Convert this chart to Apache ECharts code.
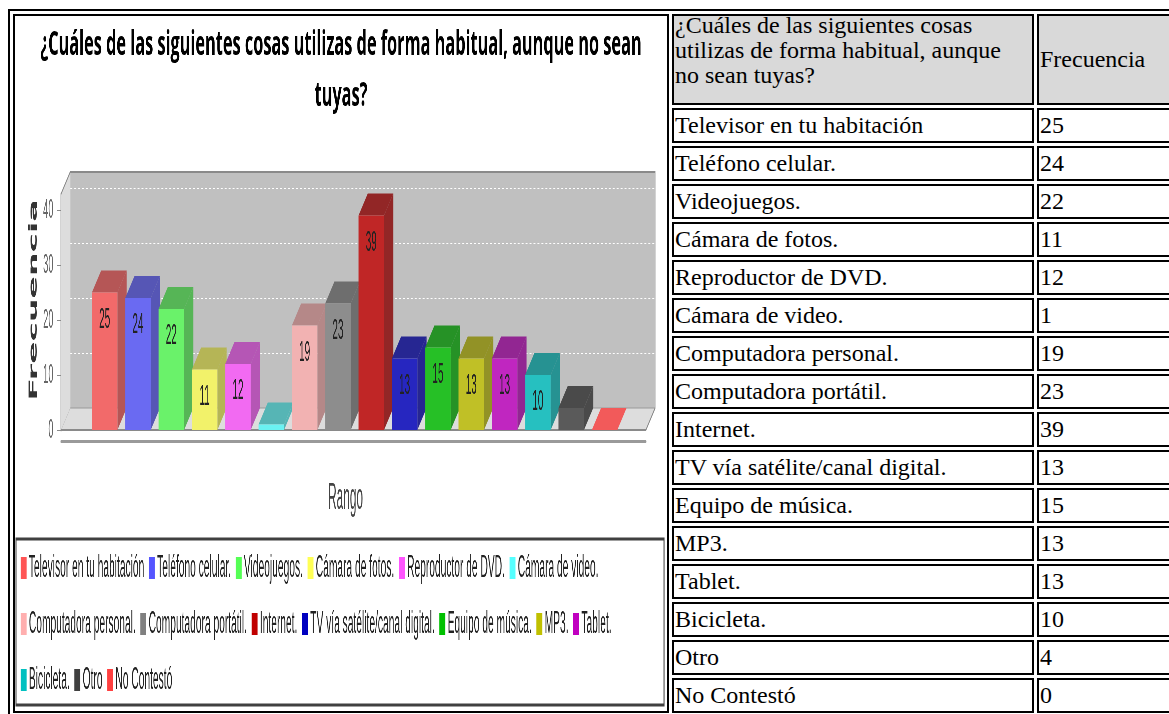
<!DOCTYPE html>
<html>
<head>
<meta charset="utf-8">
<script src="https://cdn.jsdelivr.net/npm/echarts@6/dist/echarts.min.js"></script>
<style>
  html, body { margin: 0; padding: 0; background: #fff; overflow: hidden; }
  #tbl { position: absolute; left: 8px; top: 9px; width: 1200px; border: 2px solid #000; border-spacing: 3px; border-collapse: separate; }
  #tbl td { border: 2px solid #000; padding: 0 1px; font: 24px "Liberation Serif", "Times New Roman", serif; line-height: 27px; color: #000; vertical-align: middle; background: #fff; }
  #tbl tr { height: 35px; }
  #tbl tr.head { height: 91px; }
  #tbl tr.head td.q { background: #d9d9d9; line-height: 25px; }
  #tbl tr.head td.c2 { vertical-align: top; }
  #tbl tr.head td.c2 span { position: relative; top: -3px; }
  #tbl td.chart { padding: 0; width: 652px; vertical-align: top; }
  #tbl td.c2 { width: 356px; }
  #tbl td.c3 { width: 160px; }
  #wrap { width: 652px; height: 695px; overflow: hidden; position: relative; }
  #main { position: absolute; left: 0; top: 0; height: 695px; transform-origin: 0 0; }
</style>
</head>
<body>
<table id="tbl"></table>
<script>
// data
const categories = [
  'Televisor en tu habitación', 'Teléfono celular.', 'Videojuegos.', 'Cámara de fotos.',
  'Reproductor de DVD.', 'Cámara de video.', 'Computadora personal.', 'Computadora portátil.',
  'Internet.', 'TV vía satélite/canal digital.', 'Equipo de música.', 'MP3.',
  'Tablet.', 'Bicicleta.', 'Otro', 'No Contestó'
];
const values = [25, 24, 22, 11, 12, 1, 19, 23, 39, 13, 15, 13, 13, 10, 4, 0];
const valueTicks = [0, 10, 20, 30, 40];
const titleLines = ['¿Cuáles de las siguientes cosas utilizas de forma habitual, aunque no sean', 'tuyas?'];
const questionLines = ['¿Cuáles de las siguientes cosas', 'utilizas de forma habitual, aunque', 'no sean tuyas?'];
const freqName = 'Frecuencia';
const rangeName = 'Rango';

// jfreechart default series paints
const palette = ['#ff5555', '#5555ff', '#55ff55', '#ffff55', '#ff55ff', '#55ffff', '#ffafaf', '#808080',
  '#c00000', '#0000c0', '#00c000', '#c0c000', '#c000c0', '#00c0c0', '#404040', '#ff4040'];

// ---- table ----
const tbl = document.getElementById('tbl');
let html = '<tr class="head"><td class="chart" rowspan="' + (categories.length + 1) + '"><div id="wrap"><div id="main"></div></div></td>'
  + '<td class="c2 q"><span>' + questionLines.join('<br>') + '</span></td><td class="c3 q">' + freqName + '</td></tr>';
categories.forEach((c, i) => {
  html += '<tr><td class="c2">' + c + '</td><td class="c3">' + values[i] + '</td></tr>';
});
tbl.innerHTML = html;

// ---- chart (drawn wide, then squeezed like the original image) ----
const W = 1976, H = 695;
const SX = 652 / W;
const DX = 28, DY = 22;          // 3d depth
const X_MIN = -1.31, X_MAX = 16.24, Y_MAX = 42.9, BAR_W = 0.765;

const main = document.getElementById('main');
main.style.width = W + 'px';
main.style.transform = 'scaleX(' + SX + ')';

function hex(c) { return [1, 3, 5].map(k => parseInt(c.substr(k, 2), 16)); }
function mix(c, bg, a) {
  const p = hex(c), q = hex(bg);
  return 'rgb(' + p.map((v, k) => Math.round(v * a + q[k] * (1 - a))).join(',') + ')';
}
function darker(c) {
  const p = hex(c).map(v => Math.floor(v * 0.7));
  return '#' + p.map(v => v.toString(16).padStart(2, '0')).join('');
}

function barSeries(name, k) {
  const front = mix(palette[k], '#c0c0c0', 0.8);
  const dark = mix(darker(palette[k]), '#c0c0c0', 0.8);
  return {
    type: 'custom', name: name, xAxisIndex: 0, yAxisIndex: 0, z: 3,
    itemStyle: { color: palette[k] },
    data: [[k, values[k]]],
    renderItem: function (params, api) {
      const v = api.value(1);
      const p0 = api.coord([api.value(0), 0]);
      const p1 = api.coord([api.value(0), v]);
      const w = api.size([BAR_W, 0])[0];
      const xl = p0[0] - w / 2, xr = p0[0] + w / 2, yb = p0[1], yt = p1[1];
      const kids = [
        { type: 'polygon', shape: { points: [[xr, yt], [xr + DX, yt - DY], [xr + DX, yb - DY], [xr, yb]] }, style: { fill: dark } },
        { type: 'polygon', shape: { points: [[xl, yt], [xl + DX, yt - DY], [xr + DX, yt - DY], [xr, yt]] }, style: { fill: v === 0 ? front : dark } },
        { type: 'rect', shape: { x: xl, y: yt, width: w, height: yb - yt }, style: { fill: front } }
      ];
      if (v >= 10) {
        kids.push({ type: 'text', x: p0[0], y: yt + 27,
          style: { text: String(v), font: '30px "Liberation Sans"', fill: '#222', textAlign: 'center', textVerticalAlign: 'middle' } });
      }
      return { type: 'group', children: kids };
    }
  };
}

// floor, left wall and outline of the 3d plot
const wallSeries = {
  type: 'custom', xAxisIndex: 0, yAxisIndex: 0, z: 2, silent: true,
  data: [[0, 0]],
  renderItem: function (params) {
    const c = params.coordSys;
    const x0 = c.x, x1 = c.x + c.width, yt = c.y, yb = c.y + c.height;
    return { type: 'group', children: [
      { type: 'polygon', shape: { points: [[x0, yb], [x0 + DX, yb - DY], [x1 + DX, yb - DY], [x1, yb]] }, style: { fill: '#dddddd', stroke: '#9a9a9a', lineWidth: 1 } },
      { type: 'polygon', shape: { points: [[x0, yt], [x0 + DX, yt - DY], [x0 + DX, yb - DY], [x0, yb]] }, style: { fill: '#dddddd' } },
      { type: 'polyline', shape: { points: [[x0, yt], [x0 + DX, yt - DY], [x1 + DX, yt - DY], [x1 + DX, yb - DY], [x1, yb], [x0, yb]] },
        style: { fill: 'none', stroke: '#8a8a8a', lineWidth: 2 } }
    ] };
  }
};

const chart = echarts.init(main, null, { renderer: 'canvas', width: W, height: H });

const option = {
  animation: false,
  color: palette,
  textStyle: { fontFamily: '"Liberation Sans", Arial, sans-serif' },
  graphic: [
    { type: 'text', x: W / 2, y: 55, scaleX: 1.454, z: 10,
      style: { text: titleLines.join('\n'), font: 'bold 34px "Open Sans"', fill: '#000',
        textAlign: 'center', textVerticalAlign: 'middle', lineHeight: 51 } },
    { type: 'rect', shape: { x: 3, y: 523, width: 1964, height: 166 },
      style: { fill: 'none', stroke: '#404040', lineWidth: 3 } }
  ],
  legend: {
    data: categories, left: 17, top: 531, width: 1879, padding: 0,
    itemGap: 14, itemWidth: 18, itemHeight: 22, icon: 'rect', selectedMode: false,
    textStyle: { fontSize: 31, lineHeight: 42, color: '#222', padding: [0, 0, 0, 2] }
  },
  grid: [
    { left: 139.4, right: W - 1912, top: 178, bottom: H - 414 },
    { left: 139.4 + DX, right: W - 1912 - DX, top: 178 - DY, bottom: H - 414 + DY,
      show: true, backgroundColor: '#c0c0c0', borderWidth: 0 }
  ],
  xAxis: [
    { type: 'value', gridIndex: 0, min: X_MIN, max: X_MAX, show: false },
    { type: 'category', gridIndex: 0, data: [''], position: 'bottom', offset: 11,
      axisLine: { onZero: false, lineStyle: { color: '#9a9a9a', width: 3 } },
      axisTick: { alignWithLabel: true, length: 6, lineStyle: { color: '#9a9a9a', width: 3 } },
      axisLabel: { show: false },
      name: rangeName, nameLocation: 'middle', nameGap: 40,
      nameTextStyle: { fontSize: 36, color: '#444', padding: [0, 48, 0, 0] } },
    { type: 'value', gridIndex: 1, min: 0, max: 1, show: false }
  ],
  yAxis: [
    { type: 'value', gridIndex: 0, min: 0, max: Y_MAX, interval: 10,
      axisLine: { show: true, onZero: false, lineStyle: { color: '#8a8a8a', width: 3 } },
      axisTick: { show: true, length: 12, customValues: valueTicks, lineStyle: { color: '#8a8a8a' } },
      axisLabel: { customValues: valueTicks, margin: 23, fontSize: 28, color: '#666' },
      splitLine: { show: false },
      name: freqName, nameLocation: 'middle', nameRotate: 90, nameGap: 65,
      nameTextStyle: { fontFamily: 'DejaVu Sans', fontWeight: 'bold', fontSize: 33, color: '#333', padding: [0, 0, 0, 24] } },
    { type: 'value', gridIndex: 1, min: 0, max: Y_MAX, interval: 10,
      axisLine: { show: false }, axisTick: { show: false }, axisLabel: { show: false },
      splitLine: { show: true, lineStyle: { color: '#ffffff', width: 1, type: [6, 6] } } }
  ],
  series: [wallSeries].concat(categories.map((c, k) => barSeries(c, k)))
};

chart.setOption(option);
</script>
</body>
</html>
